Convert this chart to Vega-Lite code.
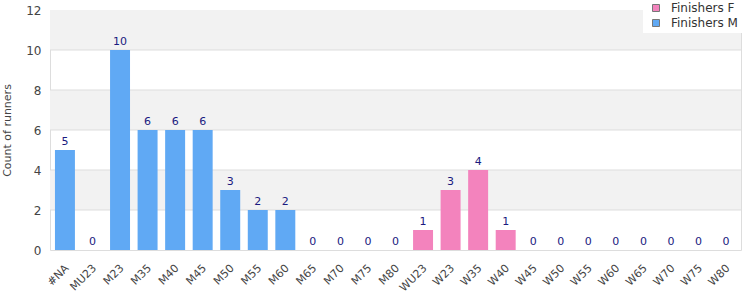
{
  "$schema": "https://vega.github.io/schema/vega-lite/v6.json",
  "autosize": {"type": "none"},
  "width": 691,
  "height": 240,
  "padding": {"left": 50, "top": 10, "right": 9, "bottom": 50},
  "config": {
    "font": "DejaVu Sans",
    "view": {"stroke": "#dddddd"},
    "axis": {"labelFont": "DejaVu Sans", "titleFont": "DejaVu Sans", "labelColor": "#444444", "titleColor": "#444444"}
  },
  "datasets": {
    "bars": [
      {"cat": "#NA", "n": 5, "g": "Finishers M"},
      {"cat": "MU23", "n": 0, "g": "Finishers M"},
      {"cat": "M23", "n": 10, "g": "Finishers M"},
      {"cat": "M35", "n": 6, "g": "Finishers M"},
      {"cat": "M40", "n": 6, "g": "Finishers M"},
      {"cat": "M45", "n": 6, "g": "Finishers M"},
      {"cat": "M50", "n": 3, "g": "Finishers M"},
      {"cat": "M55", "n": 2, "g": "Finishers M"},
      {"cat": "M60", "n": 2, "g": "Finishers M"},
      {"cat": "M65", "n": 0, "g": "Finishers M"},
      {"cat": "M70", "n": 0, "g": "Finishers M"},
      {"cat": "M75", "n": 0, "g": "Finishers M"},
      {"cat": "M80", "n": 0, "g": "Finishers M"},
      {"cat": "WU23", "n": 1, "g": "Finishers F"},
      {"cat": "W23", "n": 3, "g": "Finishers F"},
      {"cat": "W35", "n": 4, "g": "Finishers F"},
      {"cat": "W40", "n": 1, "g": "Finishers F"},
      {"cat": "W45", "n": 0, "g": "Finishers F"},
      {"cat": "W50", "n": 0, "g": "Finishers F"},
      {"cat": "W55", "n": 0, "g": "Finishers F"},
      {"cat": "W60", "n": 0, "g": "Finishers F"},
      {"cat": "W65", "n": 0, "g": "Finishers F"},
      {"cat": "W70", "n": 0, "g": "Finishers F"},
      {"cat": "W75", "n": 0, "g": "Finishers F"},
      {"cat": "W80", "n": 0, "g": "Finishers F"}
    ],
    "bands": [
      {"lo": 10, "hi": 12},
      {"lo": 6, "hi": 8},
      {"lo": 2, "hi": 4}
    ],
    "grid": [{"v": 2}, {"v": 4}, {"v": 6}, {"v": 8}, {"v": 10}]
  },
  "encoding": {
    "y": {"type": "quantitative", "scale": {"domain": [0, 12], "nice": false},
          "title": "Count of runners",
          "axis": {"values": [0, 2, 4, 6, 8, 10, 12], "tickCount": 7, "labelOverlap": false, "grid": false, "ticks": false, "domain": false, "labelFontSize": 12, "titleFontSize": 11, "titleFontWeight": "normal", "labelPadding": 9, "titlePadding": 13}}
  },
  "layer": [
    {
      "data": {"name": "bands"},
      "mark": {"type": "rect", "color": "#f2f2f2"},
      "encoding": {
        "y": {"field": "lo"},
        "y2": {"field": "hi"}
      }
    },
    {
      "data": {"name": "grid"},
      "mark": {"type": "rule", "color": "#dddddd", "strokeWidth": 1},
      "encoding": {
        "y": {"field": "v"}
      }
    },
    {
      "data": {"name": "bars"},
      "mark": {"type": "bar"},
      "encoding": {
        "x": {"field": "cat", "type": "nominal", "sort": null, "title": null,
              "scale": {"paddingInner": 0.275, "paddingOuter": 0.18},
              "axis": {"labelAngle": -45, "labelFontSize": 11, "ticks": false, "domain": false, "labelPadding": 12, "labelOffset": -2}},
        "y": {"field": "n"},
        "color": {"field": "g", "type": "nominal", "title": null,
                  "scale": {"domain": ["Finishers F", "Finishers M"], "range": ["#f383bd", "#60a9f4"]},
                  "legend": {"orient": "none", "legendX": 593, "legendY": -12, "fillColor": "white", "padding": 4, "symbolType": "square", "symbolStrokeColor": "#777777", "symbolStrokeWidth": 1, "symbolSize": 49, "symbolOffset": 3, "labelOffset": 9, "labelFontSize": 12, "labelColor": "#333333", "rowPadding": 3}}
      }
    },
    {
      "data": {"name": "bars"},
      "mark": {"type": "text", "dy": -8, "fontSize": 11, "color": "#1a1a80"},
      "encoding": {
        "x": {"field": "cat", "type": "nominal", "sort": null},
        "y": {"field": "n"},
        "text": {"field": "n", "type": "quantitative"}
      }
    }
  ]
}
